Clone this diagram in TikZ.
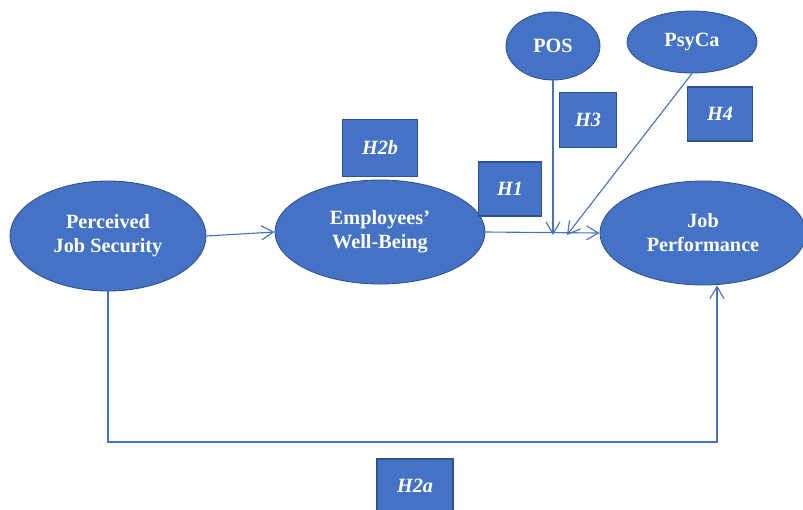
\documentclass[tikz,border=0pt]{standalone}
\usepackage{fontspec}
\setmainfont{Liberation Serif}
\usepackage{xcolor}
\usepackage{tikz}
\usetikzlibrary{arrows.meta,positioning,calc,shapes.geometric}

\definecolor{ofblue}{HTML}{4472C4}
\definecolor{ofedge}{HTML}{2F528F}

\tikzset{
  construct/.style={ellipse, fill=ofblue, draw=ofedge, line width=0.6pt, inner sep=0pt,
    text=white, align=center, font=\fontsize{14.4}{17}\selectfont\bfseries},
  hyp/.style={rectangle, fill=ofblue, draw=ofedge, line width=0.8pt, inner sep=0pt,
    text=white, font=\fontsize{14.4}{17}\selectfont\bfseries\itshape},
  path/.style={draw=ofblue, line width=0.8pt, -{Straight Barb[length=3mm,width=3.5mm]}}
}

\begin{document}
\begin{tikzpicture}[x=0.025cm, y=-0.025cm]
            \useasboundingbox (0,0) rectangle (803,509);
            % constructs
            \node[construct, minimum width=4.9cm, minimum height=2.75cm] (PJS) at (108,236) {Perceived\\Job Security};
            \node[construct, minimum width=5.25cm, minimum height=2.6cm] (EWB) at (380,232) {Employees'\\Well-Being};
            \node[construct, minimum width=5.15cm, minimum height=2.6cm] (JP) at (703,233) {Job\\Performance};
            \node[construct, minimum width=2.35cm, minimum height=1.7cm] (POS) at (553,46) {POS};
            \node[construct, minimum width=3.25cm, minimum height=1.55cm] (PsyCa) at (692,42) {PsyCa};
            % hypotheses
            \node[hyp, minimum width=1.875cm, minimum height=1.425cm] (H2b) at (380,148) {H2b};
            \node[hyp, minimum width=1.575cm, minimum height=1.35cm] (H1) at (510,189) {H1};
            \node[hyp, minimum width=1.425cm, minimum height=1.375cm] (H3) at (588,120) {H3};
            \node[hyp, minimum width=1.625cm, minimum height=1.35cm] (H4) at (720,114) {H4};
            \node[hyp, minimum width=1.9cm, minimum height=1.35cm] (H2a) at (415,486) {H2a};
            % paths
            \coordinate (H3end) at (553,235);
            \coordinate (H4end) at (567,235);
            \coordinate (base) at (717,442);
            \draw[path] (PJS.east) -- (EWB.west);
            \draw[path] (EWB.east) -- (JP.west);
            \draw[path] (POS.south) -- (H3end);
            \draw[path] (PsyCa.south) -- (H4end);
            \draw[path] (PJS.south) |- (base) -- (base |- JP.south);
        \end{tikzpicture}
\end{document}
